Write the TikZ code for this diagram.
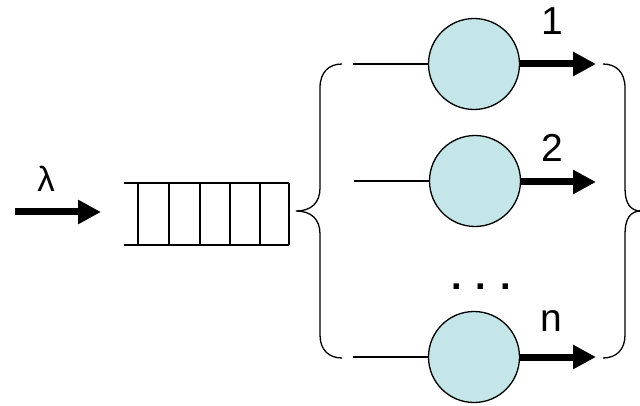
\documentclass[tikz,border=0pt]{standalone}
\usepackage{fontspec}
\setmainfont{Liberation Sans}
\usetikzlibrary{arrows.meta}
\definecolor{server}{RGB}{196,230,232}
\tikzset{
  thin line/.style={line width=1.3pt, line cap=butt},
  serverbox/.style={circle, draw, line width=1.3pt, fill=server, minimum size=91pt, inner sep=0pt},
  bigarrow/.style={line width=7pt, -{Triangle[length=23pt,width=23pt]}},
  lab/.style={font=\fontsize{39}{42}\selectfont, inner sep=0pt},
  brace/.style={line width=1.3pt},
}
\begin{document}
\begin{tikzpicture}[x=1pt,y=-1pt]
\useasboundingbox (0,0) rectangle (640,406);
% input arrow
\coordinate (inS) at (15,212);
\coordinate (inE) at (101,212);
\draw[bigarrow] (inS) -- (inE);
\node[lab, font=\fontsize{35}{38}\selectfont] (lambda) at (46,179) {λ};
% queue
\coordinate (qTL) at (124,183);
\coordinate (qTR) at (289,183);
\coordinate (qBL) at (124,245);
\coordinate (qBR) at (289,245);
\draw[thin line] (qTL) -- (qTR);
\draw[thin line] (qBL) -- (qBR);
\foreach \x in {138,169,200,230,260,289} \draw[thin line] (\x,183) -- (\x,245);
% servers
\node[serverbox] (s1) at (474,64) {};
\node[serverbox] (s2) at (475,181) {};
\node[serverbox] (sn) at (474,357) {};
% input lines
\coordinate (l1) at (353,64);
\coordinate (l2) at (354,181);
\coordinate (ln) at (353,357);
\draw[thin line] (l1) -- (s1.west);
\draw[thin line] (l2) -- (s2.west);
\draw[thin line] (ln) -- (sn.west);
% output arrows
\coordinate (o1) at (596,64);
\coordinate (o2) at (596,182);
\coordinate (on) at (596,357);
\draw[bigarrow] (s1.east) -- (o1);
\draw[bigarrow] (s2.east) ++(0,1) -- (o2);
\draw[bigarrow] (sn.east) -- (on);
\node[lab] (t1) at (552,21) {1};
\node[lab] (t2) at (552,148) {2};
\node[lab] (tn) at (551,321) {n};
\node[lab, font=\bfseries\fontsize{38}{40}\selectfont, anchor=base] (dots) at (481,289) {. . .};
% left brace
\draw[brace] (342,64) .. controls (329,64) and (320,72) .. (320,88)
  -- (320,188) .. controls (320,203) and (311,211) .. (296,211)
  .. controls (311,211) and (320,219) .. (320,234)
  -- (320,335) .. controls (320,350) and (329,358) .. (342,358);
% right brace
\draw[brace] (603,64) .. controls (616,64) and (625,72) .. (625,88)
  -- (625,188) .. controls (625,203) and (630,211) .. (641,211)
  .. controls (630,211) and (625,219) .. (625,234)
  -- (625,335) .. controls (625,350) and (616,358) .. (603,358);
\end{tikzpicture}
\end{document}
